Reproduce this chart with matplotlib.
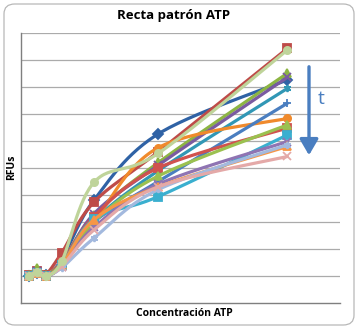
import numpy as np
import matplotlib
matplotlib.use("Agg")
import matplotlib.pyplot as plt
from matplotlib.patches import FancyBboxPatch, FancyArrowPatch

# ATP concentrations (x) and fluorescence readings (RFUs) per time point
concentracion = [0, 0.5, 1, 2, 4, 8, 16]

rfu_series = [
    [1.00, 1.10, 1.05, 1.60, 3.80, 6.26, 8.25],
    [1.05, 1.20, 1.05, 1.85, 3.73, 5.60, 9.42],
    [1.05, 1.30, 1.05, 1.50, 3.25, 5.20, 8.50],
    [1.00, 1.20, 1.00, 1.40, 3.30, 5.10, 8.35],
    [1.00, 1.15, 1.05, 1.50, 3.05, 4.90, 7.94],
    [1.00, 1.15, 1.05, 1.50, 3.00, 5.75, 6.83],
    [1.00, 1.10, 1.00, 1.50, 3.00, 4.50, 7.39],
    [1.00, 1.10, 1.00, 1.50, 3.20, 5.00, 6.47],
    [1.00, 1.10, 1.00, 1.45, 3.00, 4.70, 6.59],
    [1.00, 1.10, 1.00, 1.40, 3.10, 3.94, 6.22],
    [1.00, 1.10, 1.00, 1.35, 2.80, 4.40, 5.97],
    [1.00, 1.10, 1.00, 1.40, 3.08, 4.30, 5.79],
    [1.00, 1.10, 1.00, 1.30, 2.40, 4.20, 5.85],
    [1.00, 1.10, 1.00, 1.35, 2.70, 4.30, 5.42],
    [1.00, 1.15, 1.00, 1.54, 4.46, 5.54, 9.36],
]

colores = ["#2F62A5", "#BE4B48", "#8DB543", "#7A5BA0", "#3197B5",
           "#F08A2C", "#4A7EC0", "#D0524E", "#9BC150", "#3AAFCF",
           "#8F74B3", "#F79646", "#A3B9DE", "#E4A9A8", "#BFD49A"]
marcadores = ["D", "s", "^", "x", (6, 2, 0), "o", "+", "s", "^", "s",
              "x", "^", (6, 2, 0), "x", "o"]

XMIN, XMAX, YMIN, YMAX = -0.52, 19.26, 0, 10
ASPECT = (303 - 32.7) / (340 - 21)


def curva_suave(x, y, n=30):
    """Bezier smoothing (Catmull-Rom tangents) computed in normalised axis space."""
    sx = (np.asarray(x, float) - XMIN) / (XMAX - XMIN)
    sy = (np.asarray(y, float) - YMIN) / (YMAX - YMIN) * ASPECT
    p = np.column_stack([sx, sy])
    p = np.vstack([p[0], p, p[-1]])
    out = []
    t = np.linspace(0, 1, n)[:, None]
    for i in range(1, len(p) - 2):
        p0, p1, p2, p3 = p[i - 1], p[i], p[i + 1], p[i + 2]
        c1 = p1 + (p2 - p0) / 6
        c2 = p2 - (p3 - p1) / 6
        seg = ((1 - t) ** 3) * p1 + 3 * ((1 - t) ** 2) * t * c1 \
            + 3 * (1 - t) * t ** 2 * c2 + t ** 3 * p2
        out.append(seg if i == 1 else seg[1:])
    out = np.vstack(out)
    xs = out[:, 0] * (XMAX - XMIN) + XMIN
    ys = out[:, 1] / ASPECT * (YMAX - YMIN) + YMIN
    return xs, ys


fig = plt.figure(figsize=(3.58, 3.29), dpi=100)
fig.patch.set_facecolor("white")

marco = FancyBboxPatch((4 / 358, 4 / 329), 350 / 358, 321 / 329,
                       boxstyle="round,pad=0,rounding_size=0.03",
                       transform=fig.transFigure, facecolor="none",
                       edgecolor="#B8B8B8", linewidth=0.9, zorder=-1)
fig.patches.append(marco)

ax = fig.add_axes([21 / 358, 1 - 303 / 329, 319 / 358, (303 - 32.7) / 329])
ax.set_facecolor("none")
ax.set_xlim(XMIN, XMAX)
ax.set_ylim(YMIN, YMAX)
ax.set_yticks(np.arange(1, 11))
ax.set_xticks([])
ax.tick_params(axis="y", length=0, labelleft=False)
ax.grid(axis="y", color="#ABABAB", linewidth=0.9)
ax.set_axisbelow(True)
for lado in ("top", "right"):
    ax.spines[lado].set_visible(False)
for lado in ("left", "bottom"):
    ax.spines[lado].set_color("#7F7F7F")
    ax.spines[lado].set_linewidth(1.0)

for vals, col, mk in zip(rfu_series, colores, marcadores):
    xs, ys = curva_suave(concentracion, vals)
    ax.plot(xs, ys, color=col, linewidth=2.3, solid_capstyle="round", zorder=3)
    ax.plot(concentracion, vals, linestyle="none", marker=mk, color=col,
            markersize=5.2, markeredgewidth=1.3, markeredgecolor=col, zorder=3)

fuente = ["Open Sans", "DejaVu Sans"]
fig.text(0.485, 1 - 15 / 329, "Recta patrón ATP", ha="center", va="center",
         fontsize=9.5, fontweight="bold", family=fuente)
fig.text(0.514, 1 - 314 / 329, "Concentración ATP", ha="center", va="center",
         fontsize=7.5, fontweight="bold", family=fuente)
fig.text(12 / 358, 1 - 167 / 329, "RFUs", ha="center", va="center",
         rotation=90, fontsize=7.5, fontweight="bold", family=fuente)

# time arrow
flecha = FancyArrowPatch((309 / 358, 1 - 64 / 329), (309 / 358, 1 - 158 / 329),
                         transform=fig.transFigure,
                         arrowstyle="-|>,head_length=6,head_width=3.5",
                         color="#4A7EC0", linewidth=2.4, mutation_scale=1.6)
fig.patches.append(flecha)
fig.text(321 / 358, 1 - 99 / 329, "t", ha="center", va="center",
         fontsize=14, color="#4A7EC0", family=fuente)

fig.savefig("out.png", dpi=100, facecolor="white")
